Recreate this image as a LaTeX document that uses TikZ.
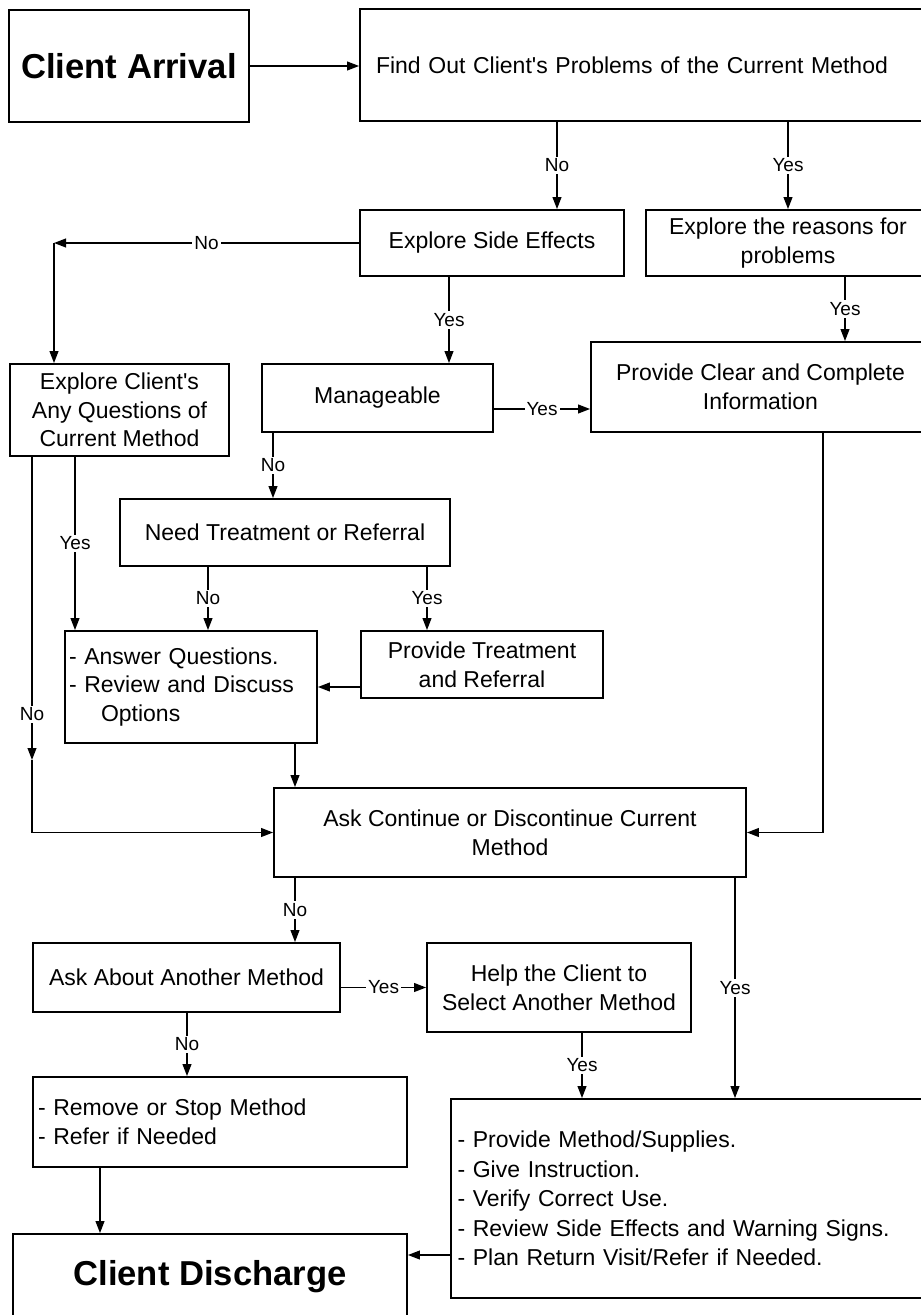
\documentclass[tikz,border=0pt]{standalone}
\usepackage{fontspec}
\setmainfont{Liberation Sans}
\usetikzlibrary{arrows.meta}
\tikzset{
  box/.style={draw, rectangle, line width=0.9pt, inner sep=0pt, align=center, font=\fontsize{11.5}{14.3}\selectfont},
  bigbox/.style={box, font=\fontsize{17.3}{20}\selectfont\bfseries},
  lbl/.style={fill=white, inner sep=1pt, font=\fontsize{9.5}{11}\selectfont},
  flow/.style={-{Triangle[length=6pt,width=4.4pt]}, line width=0.75pt},
}
\begin{document}
\begin{tikzpicture}[x=0.5pt, y=-0.5pt]
\useasboundingbox (0,0) rectangle (920,1315);
\foreach \c in {32,54,75,100,187,208,273,295,427,449,557,582,735,823,845}
  \coordinate (x\c) at (\c,0);
\node[bigbox, minimum width=120pt, minimum height=56pt] (arrival) at (129,66) {Client Arrival};
\node[box, minimum width=285pt, minimum height=56pt, text width=269pt, align=left] (findout) at (645,65) {Find Out Client\textquotesingle s Problems of the Current Method};
\node[box, minimum width=132pt, minimum height=33pt] (sidefx) at (492,243) {Explore Side Effects};
\node[box, minimum width=142pt, minimum height=33pt] (reasons) at (788,243) {Explore the reasons for\\problems};
\node[box, minimum width=109.5pt, minimum height=46pt] (questions) at (119.5,410) {Explore Client\textquotesingle s\\Any Questions of\\Current Method};
\node[box, minimum width=115.5pt, minimum height=34pt] (manage) at (377.5,398) {Manageable};
\node[box, minimum width=169.5pt, minimum height=45pt] (clearinfo) at (760.5,387) {Provide Clear and Complete\\Information};
\node[box, minimum width=165pt, minimum height=33.5pt] (needtr) at (285,532.5) {Need Treatment or Referral};
\node[box, minimum width=126pt, minimum height=56pt, text width=122pt, align=left] (answer) at (191,687) {- Answer Questions.\\- Review and Discuss\\\hspace*{16pt}Options};
\node[box, minimum width=121pt, minimum height=33.5pt] (treatment) at (482,664.5) {Provide Treatment\\and Referral};
\node[box, minimum width=236pt, minimum height=44.5pt] (askcont) at (510,832.5) {Ask Continue or Discontinue Current\\Method};
\node[box, minimum width=153.5pt, minimum height=34.5pt] (another) at (186.5,977.5) {Ask About Another Method};
\node[box, minimum width=132pt, minimum height=44.5pt] (help) at (559,987.5) {Help the Client to\\Select Another Method};
\node[box, minimum width=187pt, minimum height=45pt, text width=182pt, align=left] (remove) at (220,1122) {- Remove or Stop Method\\- Refer if Needed};
\node[box, minimum width=239.5pt, minimum height=99.5pt, text width=233pt, align=left, font=\fontsize{11.5}{14.75}\selectfont] (provide) at (690.5,1198.5) {- Provide Method/Supplies.\\- Give Instruction.\\- Verify Correct Use.\\- Review Side Effects and Warning Signs.\\- Plan Return Visit/Refer if Needed.};
\node[bigbox, minimum width=197pt, minimum height=43pt] (discharge) at (210,1277) {Client Discharge};
\coordinate (turnA) at (54,243);
\coordinate (turnB) at (32,760);
\draw[flow] (arrival.east) -- (arrival.east -| findout.west);
\draw[flow] (findout.south -| x557) -- node[lbl]{No} (sidefx.north -| x557);
\draw[flow] (findout.south -| reasons.north) -- node[lbl]{Yes} (reasons.north);
\draw[flow] (sidefx.west) -- node[lbl]{No} (turnA);
\draw[flow] (turnA) -- (questions.north -| turnA);
\draw[flow] (sidefx.south -| x449) -- node[lbl]{Yes} (manage.north -| x449);
\draw[flow] (reasons.south -| x845) -- node[lbl]{Yes} (clearinfo.north -| x845);
\draw[flow] ([yshift=-5.5pt]manage.east) -- node[lbl]{Yes} ([yshift=-5.5pt]manage.east -| clearinfo.west);
\draw[flow] (manage.south -| x273) -- node[lbl]{No} (needtr.north -| x273);
\draw[flow] (questions.south -| x75) -- node[lbl]{Yes} (answer.north -| x75);
\draw[flow] (questions.south -| turnB) -- node[lbl, pos=0.85]{No} (turnB);
\draw[flow] (turnB) |- (askcont.west);
\draw[flow] (needtr.south -| x208) -- node[lbl]{No} (answer.north -| x208);
\draw[flow] (needtr.south -| x427) -- node[lbl]{Yes} (treatment.north -| x427);
\draw[flow] (treatment.west |- answer.east) -- (answer.east);
\draw[flow] (answer.south -| x295) -- (askcont.north -| x295);
\draw[flow] (clearinfo.south -| x823) |- (askcont.east);
\draw[flow] (askcont.south -| x295) -- node[lbl]{No} (another.north -| x295);
\draw[flow] (another.east |- help.west) -- node[lbl]{Yes} (help.west);
\draw[flow] (askcont.south -| x735) -- node[lbl]{Yes} (provide.north -| x735);
\draw[flow] (another.south -| x187) -- node[lbl]{No} (remove.north -| x187);
\draw[flow] (help.south -| x582) -- node[lbl]{Yes} (provide.north -| x582);
\draw[flow] (remove.south -| x100) -- (discharge.north -| x100);
\draw[flow] ([yshift=-28.25pt]provide.west) -- ([yshift=-28.25pt]provide.west -| discharge.east);
\end{tikzpicture}
\end{document}
